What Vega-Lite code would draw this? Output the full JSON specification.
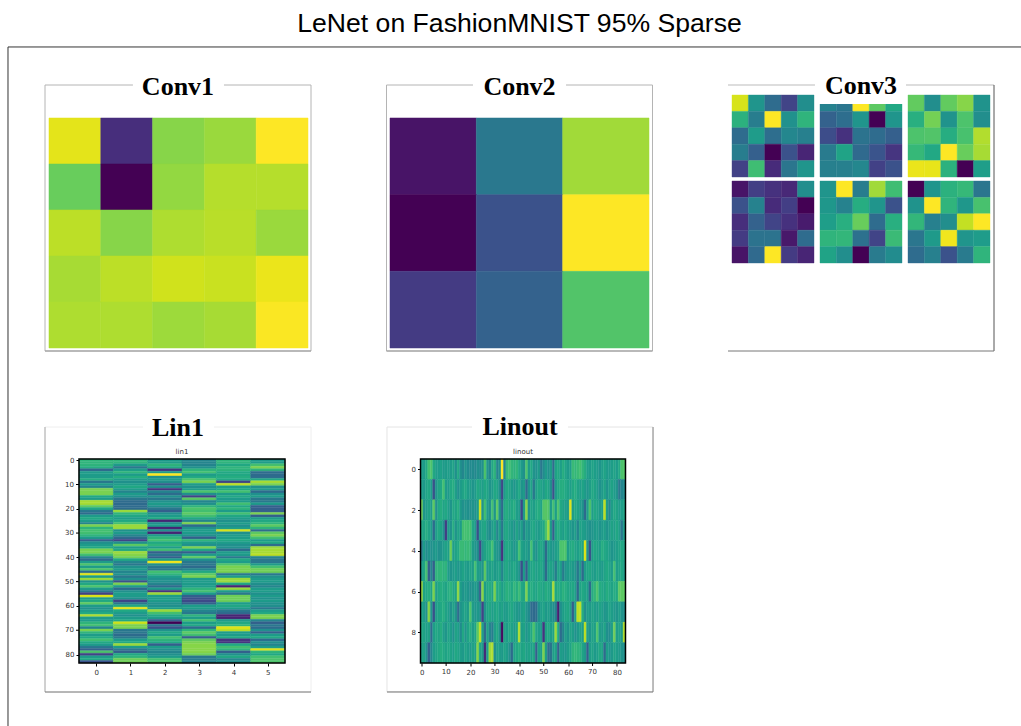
{"$schema":"https://vega.github.io/schema/vega-lite/v6.json","background":"white","padding":{"left":7,"top":10,"right":0,"bottom":0},"title":{"text":"LeNet on FashionMNIST 95% Sparse","font":"Liberation Sans","fontSize":26.6,"fontWeight":"normal","color":"#000","anchor":"middle","dx":5,"offset":9},"columns":3,"bounds":"flush","spacing":{"column":75.5,"row":76},
"config":{"axis":{"title":null,"domain":false,"grid":false,"tickColor":"#000","tickSize":3,"labelFont":"DejaVu Sans","labelFontSize":7,"labelColor":"#333","labelPadding":2,"format":"d"}},
"datasets":{"conv1":[{"r":0,"c":0,"v":96},{"r":0,"c":1,"v":13},{"r":0,"c":2,"v":82},{"r":0,"c":3,"v":85},{"r":0,"c":4,"v":100},{"r":1,"c":0,"v":77},{"r":1,"c":1,"v":0},{"r":1,"c":2,"v":84},{"r":1,"c":3,"v":89},{"r":1,"c":4,"v":89},{"r":2,"c":0,"v":90},{"r":2,"c":1,"v":82},{"r":2,"c":2,"v":88},{"r":2,"c":3,"v":89.5},{"r":2,"c":4,"v":85},{"r":3,"c":0,"v":87},{"r":3,"c":1,"v":90},{"r":3,"c":2,"v":93},{"r":3,"c":3,"v":92},{"r":3,"c":4,"v":97},{"r":4,"c":0,"v":88},{"r":4,"c":1,"v":88},{"r":4,"c":2,"v":85.5},{"r":4,"c":3,"v":87},{"r":4,"c":4,"v":99.5}],
"conv2":[{"r":0,"c":0,"v":5},{"r":0,"c":1,"v":40},{"r":0,"c":2,"v":86},{"r":1,"c":0,"v":0},{"r":1,"c":1,"v":25},{"r":1,"c":2,"v":100},{"r":2,"c":0,"v":17},{"r":2,"c":1,"v":31},{"r":2,"c":2,"v":73}],
"conv3":[{"m":0,"r":0,"c":0,"v":94},{"m":0,"r":0,"c":1,"v":52},{"m":0,"r":0,"c":2,"v":35},{"m":0,"r":0,"c":3,"v":20},{"m":0,"r":0,"c":4,"v":49},{"m":0,"r":1,"c":0,"v":64},{"m":0,"r":1,"c":1,"v":42},{"m":0,"r":1,"c":2,"v":100},{"m":0,"r":1,"c":3,"v":50},{"m":0,"r":1,"c":4,"v":65},{"m":0,"r":2,"c":0,"v":35},{"m":0,"r":2,"c":1,"v":55},{"m":0,"r":2,"c":2,"v":36},{"m":0,"r":2,"c":3,"v":46},{"m":0,"r":2,"c":4,"v":43},{"m":0,"r":3,"c":0,"v":42},{"m":0,"r":3,"c":1,"v":30},{"m":0,"r":3,"c":2,"v":0},{"m":0,"r":3,"c":3,"v":25},{"m":0,"r":3,"c":4,"v":10},{"m":0,"r":4,"c":0,"v":19},{"m":0,"r":4,"c":1,"v":69},{"m":0,"r":4,"c":2,"v":12},{"m":0,"r":4,"c":3,"v":39},{"m":0,"r":4,"c":4,"v":52},
{"m":1,"r":0,"c":0,"v":44},{"m":1,"r":0,"c":1,"v":39},{"m":1,"r":0,"c":2,"v":100},{"m":1,"r":0,"c":3,"v":75},{"m":1,"r":0,"c":4,"v":60},{"m":1,"r":1,"c":0,"v":31},{"m":1,"r":1,"c":1,"v":36},{"m":1,"r":1,"c":2,"v":52},{"m":1,"r":1,"c":3,"v":0},{"m":1,"r":1,"c":4,"v":52},{"m":1,"r":2,"c":0,"v":23},{"m":1,"r":2,"c":1,"v":14},{"m":1,"r":2,"c":2,"v":38},{"m":1,"r":2,"c":3,"v":35},{"m":1,"r":2,"c":4,"v":30},{"m":1,"r":3,"c":0,"v":41},{"m":1,"r":3,"c":1,"v":58},{"m":1,"r":3,"c":2,"v":34},{"m":1,"r":3,"c":3,"v":26},{"m":1,"r":3,"c":4,"v":15},{"m":1,"r":4,"c":0,"v":43},{"m":1,"r":4,"c":1,"v":43},{"m":1,"r":4,"c":2,"v":46},{"m":1,"r":4,"c":3,"v":19},{"m":1,"r":4,"c":4,"v":25},
{"m":2,"r":0,"c":0,"v":76},{"m":2,"r":0,"c":1,"v":49},{"m":2,"r":0,"c":2,"v":76},{"m":2,"r":0,"c":3,"v":82},{"m":2,"r":0,"c":4,"v":51},{"m":2,"r":1,"c":0,"v":63},{"m":2,"r":1,"c":1,"v":79},{"m":2,"r":1,"c":2,"v":51},{"m":2,"r":1,"c":3,"v":72},{"m":2,"r":1,"c":4,"v":49},{"m":2,"r":2,"c":0,"v":72},{"m":2,"r":2,"c":1,"v":73},{"m":2,"r":2,"c":2,"v":62},{"m":2,"r":2,"c":3,"v":71},{"m":2,"r":2,"c":4,"v":88.5},{"m":2,"r":3,"c":0,"v":67},{"m":2,"r":3,"c":1,"v":60},{"m":2,"r":3,"c":2,"v":100},{"m":2,"r":3,"c":3,"v":77},{"m":2,"r":3,"c":4,"v":87},{"m":2,"r":4,"c":0,"v":97},{"m":2,"r":4,"c":1,"v":96.5},{"m":2,"r":4,"c":2,"v":64},{"m":2,"r":4,"c":3,"v":0},{"m":2,"r":4,"c":4,"v":56},
{"m":3,"r":0,"c":0,"v":5},{"m":3,"r":0,"c":1,"v":18},{"m":3,"r":0,"c":2,"v":14},{"m":3,"r":0,"c":3,"v":11},{"m":3,"r":0,"c":4,"v":49},{"m":3,"r":1,"c":0,"v":25},{"m":3,"r":1,"c":1,"v":44},{"m":3,"r":1,"c":2,"v":12},{"m":3,"r":1,"c":3,"v":18},{"m":3,"r":1,"c":4,"v":0},{"m":3,"r":2,"c":0,"v":13},{"m":3,"r":2,"c":1,"v":31},{"m":3,"r":2,"c":2,"v":20},{"m":3,"r":2,"c":3,"v":14},{"m":3,"r":2,"c":4,"v":7},{"m":3,"r":3,"c":0,"v":17},{"m":3,"r":3,"c":1,"v":38},{"m":3,"r":3,"c":2,"v":38},{"m":3,"r":3,"c":3,"v":6},{"m":3,"r":3,"c":4,"v":35},{"m":3,"r":4,"c":0,"v":5},{"m":3,"r":4,"c":1,"v":34},{"m":3,"r":4,"c":2,"v":100},{"m":3,"r":4,"c":3,"v":17},{"m":3,"r":4,"c":4,"v":10},
{"m":4,"r":0,"c":0,"v":52},{"m":4,"r":0,"c":1,"v":100},{"m":4,"r":0,"c":2,"v":42},{"m":4,"r":0,"c":3,"v":86},{"m":4,"r":0,"c":4,"v":69},{"m":4,"r":1,"c":0,"v":53},{"m":4,"r":1,"c":1,"v":44},{"m":4,"r":1,"c":2,"v":62},{"m":4,"r":1,"c":3,"v":52},{"m":4,"r":1,"c":4,"v":25},{"m":4,"r":2,"c":0,"v":56},{"m":4,"r":2,"c":1,"v":63},{"m":4,"r":2,"c":2,"v":77},{"m":4,"r":2,"c":3,"v":35},{"m":4,"r":2,"c":4,"v":63},{"m":4,"r":3,"c":0,"v":65},{"m":4,"r":3,"c":1,"v":66},{"m":4,"r":3,"c":2,"v":37},{"m":4,"r":3,"c":3,"v":20},{"m":4,"r":3,"c":4,"v":68},{"m":4,"r":4,"c":0,"v":58},{"m":4,"r":4,"c":1,"v":49},{"m":4,"r":4,"c":2,"v":0},{"m":4,"r":4,"c":3,"v":41},{"m":4,"r":4,"c":4,"v":48},
{"m":5,"r":0,"c":0,"v":0},{"m":5,"r":0,"c":1,"v":52},{"m":5,"r":0,"c":2,"v":64},{"m":5,"r":0,"c":3,"v":67},{"m":5,"r":0,"c":4,"v":39},{"m":5,"r":1,"c":0,"v":51},{"m":5,"r":1,"c":1,"v":100},{"m":5,"r":1,"c":2,"v":65},{"m":5,"r":1,"c":3,"v":53},{"m":5,"r":1,"c":4,"v":71},{"m":5,"r":2,"c":0,"v":66},{"m":5,"r":2,"c":1,"v":43},{"m":5,"r":2,"c":2,"v":49},{"m":5,"r":2,"c":3,"v":91},{"m":5,"r":2,"c":4,"v":100},{"m":5,"r":3,"c":0,"v":39},{"m":5,"r":3,"c":1,"v":54},{"m":5,"r":3,"c":2,"v":98},{"m":5,"r":3,"c":3,"v":52},{"m":5,"r":3,"c":4,"v":55},{"m":5,"r":4,"c":0,"v":35},{"m":5,"r":4,"c":1,"v":43},{"m":5,"r":4,"c":2,"v":25},{"m":5,"r":4,"c":3,"v":41},{"m":5,"r":4,"c":4,"v":65}],
"oddticks":[{"t":10},{"t":30},{"t":50},{"t":70}],
"lin1":[{"r":0,"c":0,"v":65},{"r":1,"c":0,"v":65},{"r":2,"c":0,"v":65},{"r":3,"c":0,"v":62},{"r":4,"c":0,"v":32},{"r":5,"c":0,"v":55},{"r":6,"c":0,"v":55},{"r":7,"c":0,"v":55},{"r":8,"c":0,"v":62},{"r":9,"c":0,"v":40},{"r":10,"c":0,"v":55},{"r":11,"c":0,"v":45},{"r":12,"c":0,"v":80},{"r":13,"c":0,"v":80},{"r":14,"c":0,"v":80},{"r":15,"c":0,"v":60},{"r":16,"c":0,"v":55},{"r":17,"c":0,"v":87},{"r":18,"c":0,"v":87},{"r":19,"c":0,"v":75},{"r":20,"c":0,"v":60},{"r":21,"c":0,"v":40},{"r":22,"c":0,"v":35},{"r":23,"c":0,"v":55},{"r":24,"c":0,"v":60},{"r":25,"c":0,"v":55},{"r":26,"c":0,"v":45},{"r":27,"c":0,"v":80},{"r":28,"c":0,"v":65},{"r":29,"c":0,"v":70},{"r":30,"c":0,"v":70},{"r":31,"c":0,"v":65},{"r":32,"c":0,"v":55},{"r":33,"c":0,"v":30},{"r":34,"c":0,"v":50},{"r":35,"c":0,"v":55},{"r":36,"c":0,"v":60},{"r":37,"c":0,"v":80},{"r":38,"c":0,"v":80},{"r":39,"c":0,"v":70},{"r":40,"c":0,"v":45},{"r":41,"c":0,"v":35},{"r":42,"c":0,"v":55},{"r":43,"c":0,"v":72},{"r":44,"c":0,"v":55},{"r":45,"c":0,"v":72},{"r":46,"c":0,"v":35},{"r":47,"c":0,"v":95},{"r":48,"c":0,"v":55},{"r":49,"c":0,"v":85},{"r":50,"c":0,"v":50},{"r":51,"c":0,"v":60},{"r":52,"c":0,"v":72},{"r":53,"c":0,"v":55},{"r":54,"c":0,"v":40},{"r":55,"c":0,"v":20},{"r":56,"c":0,"v":95},{"r":57,"c":0,"v":55},{"r":58,"c":0,"v":60},{"r":59,"c":0,"v":75},{"r":60,"c":0,"v":55},{"r":61,"c":0,"v":50},{"r":62,"c":0,"v":55},{"r":63,"c":0,"v":60},{"r":64,"c":0,"v":88},{"r":65,"c":0,"v":55},{"r":66,"c":0,"v":55},{"r":67,"c":0,"v":65},{"r":68,"c":0,"v":70},{"r":69,"c":0,"v":45},{"r":70,"c":0,"v":80},{"r":71,"c":0,"v":65},{"r":72,"c":0,"v":55},{"r":73,"c":0,"v":60},{"r":74,"c":0,"v":70},{"r":75,"c":0,"v":60},{"r":76,"c":0,"v":55},{"r":77,"c":0,"v":40},{"r":78,"c":0,"v":30},{"r":79,"c":0,"v":72},{"r":80,"c":0,"v":20},{"r":81,"c":0,"v":55},{"r":82,"c":0,"v":60},{"r":83,"c":0,"v":25},
{"r":0,"c":1,"v":65},{"r":1,"c":1,"v":65},{"r":2,"c":1,"v":55},{"r":3,"c":1,"v":40},{"r":4,"c":1,"v":55},{"r":5,"c":1,"v":65},{"r":6,"c":1,"v":55},{"r":7,"c":1,"v":62},{"r":8,"c":1,"v":55},{"r":9,"c":1,"v":50},{"r":10,"c":1,"v":55},{"r":11,"c":1,"v":60},{"r":12,"c":1,"v":55},{"r":13,"c":1,"v":45},{"r":14,"c":1,"v":55},{"r":15,"c":1,"v":50},{"r":16,"c":1,"v":40},{"r":17,"c":1,"v":35},{"r":18,"c":1,"v":35},{"r":19,"c":1,"v":35},{"r":20,"c":1,"v":35},{"r":21,"c":1,"v":85},{"r":22,"c":1,"v":65},{"r":23,"c":1,"v":60},{"r":24,"c":1,"v":55},{"r":25,"c":1,"v":60},{"r":26,"c":1,"v":70},{"r":27,"c":1,"v":85},{"r":28,"c":1,"v":85},{"r":29,"c":1,"v":50},{"r":30,"c":1,"v":55},{"r":31,"c":1,"v":45},{"r":32,"c":1,"v":35},{"r":33,"c":1,"v":20},{"r":34,"c":1,"v":50},{"r":35,"c":1,"v":75},{"r":36,"c":1,"v":55},{"r":37,"c":1,"v":60},{"r":38,"c":1,"v":85},{"r":39,"c":1,"v":82},{"r":40,"c":1,"v":78},{"r":41,"c":1,"v":60},{"r":42,"c":1,"v":45},{"r":43,"c":1,"v":40},{"r":44,"c":1,"v":50},{"r":45,"c":1,"v":55},{"r":46,"c":1,"v":45},{"r":47,"c":1,"v":50},{"r":48,"c":1,"v":40},{"r":49,"c":1,"v":50},{"r":50,"c":1,"v":25},{"r":51,"c":1,"v":80},{"r":52,"c":1,"v":55},{"r":53,"c":1,"v":35},{"r":54,"c":1,"v":50},{"r":55,"c":1,"v":55},{"r":56,"c":1,"v":55},{"r":57,"c":1,"v":50},{"r":58,"c":1,"v":20},{"r":59,"c":1,"v":40},{"r":60,"c":1,"v":60},{"r":61,"c":1,"v":96},{"r":62,"c":1,"v":60},{"r":63,"c":1,"v":55},{"r":64,"c":1,"v":50},{"r":65,"c":1,"v":55},{"r":66,"c":1,"v":60},{"r":67,"c":1,"v":93},{"r":68,"c":1,"v":80},{"r":69,"c":1,"v":80},{"r":70,"c":1,"v":40},{"r":71,"c":1,"v":40},{"r":72,"c":1,"v":35},{"r":73,"c":1,"v":40},{"r":74,"c":1,"v":55},{"r":75,"c":1,"v":60},{"r":76,"c":1,"v":85},{"r":77,"c":1,"v":55},{"r":78,"c":1,"v":40},{"r":79,"c":1,"v":30},{"r":80,"c":1,"v":60},{"r":81,"c":1,"v":65},{"r":82,"c":1,"v":78},{"r":83,"c":1,"v":78},
{"r":0,"c":2,"v":55},{"r":1,"c":2,"v":55},{"r":2,"c":2,"v":65},{"r":3,"c":2,"v":60},{"r":4,"c":2,"v":15},{"r":5,"c":2,"v":55},{"r":6,"c":2,"v":100},{"r":7,"c":2,"v":50},{"r":8,"c":2,"v":55},{"r":9,"c":2,"v":50},{"r":10,"c":2,"v":30},{"r":11,"c":2,"v":50},{"r":12,"c":2,"v":15},{"r":13,"c":2,"v":45},{"r":14,"c":2,"v":35},{"r":15,"c":2,"v":50},{"r":16,"c":2,"v":40},{"r":17,"c":2,"v":50},{"r":18,"c":2,"v":55},{"r":19,"c":2,"v":50},{"r":20,"c":2,"v":40},{"r":21,"c":2,"v":30},{"r":22,"c":2,"v":50},{"r":23,"c":2,"v":55},{"r":24,"c":2,"v":60},{"r":25,"c":2,"v":10},{"r":26,"c":2,"v":50},{"r":27,"c":2,"v":55},{"r":28,"c":2,"v":10},{"r":29,"c":2,"v":50},{"r":30,"c":2,"v":10},{"r":31,"c":2,"v":55},{"r":32,"c":2,"v":65},{"r":33,"c":2,"v":70},{"r":34,"c":2,"v":60},{"r":35,"c":2,"v":65},{"r":36,"c":2,"v":55},{"r":37,"c":2,"v":70},{"r":38,"c":2,"v":30},{"r":39,"c":2,"v":40},{"r":40,"c":2,"v":30},{"r":41,"c":2,"v":55},{"r":42,"c":2,"v":98},{"r":43,"c":2,"v":50},{"r":44,"c":2,"v":40},{"r":45,"c":2,"v":40},{"r":46,"c":2,"v":70},{"r":47,"c":2,"v":65},{"r":48,"c":2,"v":55},{"r":49,"c":2,"v":50},{"r":50,"c":2,"v":50},{"r":51,"c":2,"v":45},{"r":52,"c":2,"v":35},{"r":53,"c":2,"v":55},{"r":54,"c":2,"v":15},{"r":55,"c":2,"v":85},{"r":56,"c":2,"v":55},{"r":57,"c":2,"v":55},{"r":58,"c":2,"v":55},{"r":59,"c":2,"v":50},{"r":60,"c":2,"v":50},{"r":61,"c":2,"v":55},{"r":62,"c":2,"v":85},{"r":63,"c":2,"v":70},{"r":64,"c":2,"v":60},{"r":65,"c":2,"v":55},{"r":66,"c":2,"v":30},{"r":67,"c":2,"v":0},{"r":68,"c":2,"v":40},{"r":69,"c":2,"v":25},{"r":70,"c":2,"v":50},{"r":71,"c":2,"v":60},{"r":72,"c":2,"v":55},{"r":73,"c":2,"v":70},{"r":74,"c":2,"v":65},{"r":75,"c":2,"v":60},{"r":76,"c":2,"v":30},{"r":77,"c":2,"v":55},{"r":78,"c":2,"v":50},{"r":79,"c":2,"v":45},{"r":80,"c":2,"v":50},{"r":81,"c":2,"v":55},{"r":82,"c":2,"v":70},{"r":83,"c":2,"v":72},
{"r":0,"c":3,"v":45},{"r":1,"c":3,"v":45},{"r":2,"c":3,"v":45},{"r":3,"c":3,"v":50},{"r":4,"c":3,"v":65},{"r":5,"c":3,"v":70},{"r":6,"c":3,"v":55},{"r":7,"c":3,"v":60},{"r":8,"c":3,"v":72},{"r":9,"c":3,"v":80},{"r":10,"c":3,"v":55},{"r":11,"c":3,"v":50},{"r":12,"c":3,"v":55},{"r":13,"c":3,"v":72},{"r":14,"c":3,"v":50},{"r":15,"c":3,"v":20},{"r":16,"c":3,"v":75},{"r":17,"c":3,"v":45},{"r":18,"c":3,"v":50},{"r":19,"c":3,"v":65},{"r":20,"c":3,"v":72},{"r":21,"c":3,"v":70},{"r":22,"c":3,"v":75},{"r":23,"c":3,"v":70},{"r":24,"c":3,"v":60},{"r":25,"c":3,"v":45},{"r":26,"c":3,"v":80},{"r":27,"c":3,"v":35},{"r":28,"c":3,"v":50},{"r":29,"c":3,"v":55},{"r":30,"c":3,"v":55},{"r":31,"c":3,"v":50},{"r":32,"c":3,"v":30},{"r":33,"c":3,"v":65},{"r":34,"c":3,"v":55},{"r":35,"c":3,"v":50},{"r":36,"c":3,"v":80},{"r":37,"c":3,"v":60},{"r":38,"c":3,"v":30},{"r":39,"c":3,"v":55},{"r":40,"c":3,"v":75},{"r":41,"c":3,"v":50},{"r":42,"c":3,"v":40},{"r":43,"c":3,"v":40},{"r":44,"c":3,"v":35},{"r":45,"c":3,"v":45},{"r":46,"c":3,"v":60},{"r":47,"c":3,"v":75},{"r":48,"c":3,"v":80},{"r":49,"c":3,"v":55},{"r":50,"c":3,"v":55},{"r":51,"c":3,"v":55},{"r":52,"c":3,"v":55},{"r":53,"c":3,"v":65},{"r":54,"c":3,"v":70},{"r":55,"c":3,"v":55},{"r":56,"c":3,"v":30},{"r":57,"c":3,"v":25},{"r":58,"c":3,"v":22},{"r":59,"c":3,"v":30},{"r":60,"c":3,"v":55},{"r":61,"c":3,"v":55},{"r":62,"c":3,"v":45},{"r":63,"c":3,"v":40},{"r":64,"c":3,"v":65},{"r":65,"c":3,"v":55},{"r":66,"c":3,"v":70},{"r":67,"c":3,"v":55},{"r":68,"c":3,"v":60},{"r":69,"c":3,"v":35},{"r":70,"c":3,"v":65},{"r":71,"c":3,"v":75},{"r":72,"c":3,"v":70},{"r":73,"c":3,"v":30},{"r":74,"c":3,"v":75},{"r":75,"c":3,"v":80},{"r":76,"c":3,"v":82},{"r":77,"c":3,"v":82},{"r":78,"c":3,"v":82},{"r":79,"c":3,"v":82},{"r":80,"c":3,"v":78},{"r":81,"c":3,"v":40},{"r":82,"c":3,"v":42},{"r":83,"c":3,"v":45},
{"r":0,"c":4,"v":65},{"r":1,"c":4,"v":65},{"r":2,"c":4,"v":60},{"r":3,"c":4,"v":65},{"r":4,"c":4,"v":65},{"r":5,"c":4,"v":60},{"r":6,"c":4,"v":60},{"r":7,"c":4,"v":62},{"r":8,"c":4,"v":60},{"r":9,"c":4,"v":20},{"r":10,"c":4,"v":90},{"r":11,"c":4,"v":55},{"r":12,"c":4,"v":60},{"r":13,"c":4,"v":70},{"r":14,"c":4,"v":55},{"r":15,"c":4,"v":60},{"r":16,"c":4,"v":55},{"r":17,"c":4,"v":55},{"r":18,"c":4,"v":70},{"r":19,"c":4,"v":60},{"r":20,"c":4,"v":65},{"r":21,"c":4,"v":55},{"r":22,"c":4,"v":70},{"r":23,"c":4,"v":60},{"r":24,"c":4,"v":55},{"r":25,"c":4,"v":50},{"r":26,"c":4,"v":55},{"r":27,"c":4,"v":50},{"r":28,"c":4,"v":55},{"r":29,"c":4,"v":94},{"r":30,"c":4,"v":50},{"r":31,"c":4,"v":55},{"r":32,"c":4,"v":55},{"r":33,"c":4,"v":60},{"r":34,"c":4,"v":55},{"r":35,"c":4,"v":50},{"r":36,"c":4,"v":50},{"r":37,"c":4,"v":35},{"r":38,"c":4,"v":55},{"r":39,"c":4,"v":55},{"r":40,"c":4,"v":40},{"r":41,"c":4,"v":60},{"r":42,"c":4,"v":55},{"r":43,"c":4,"v":72},{"r":44,"c":4,"v":80},{"r":45,"c":4,"v":80},{"r":46,"c":4,"v":80},{"r":47,"c":4,"v":40},{"r":48,"c":4,"v":55},{"r":49,"c":4,"v":85},{"r":50,"c":4,"v":85},{"r":51,"c":4,"v":60},{"r":52,"c":4,"v":10},{"r":53,"c":4,"v":85},{"r":54,"c":4,"v":55},{"r":55,"c":4,"v":40},{"r":56,"c":4,"v":78},{"r":57,"c":4,"v":78},{"r":58,"c":4,"v":78},{"r":59,"c":4,"v":55},{"r":60,"c":4,"v":60},{"r":61,"c":4,"v":55},{"r":62,"c":4,"v":40},{"r":63,"c":4,"v":35},{"r":64,"c":4,"v":10},{"r":65,"c":4,"v":10},{"r":66,"c":4,"v":55},{"r":67,"c":4,"v":60},{"r":68,"c":4,"v":65},{"r":69,"c":4,"v":95},{"r":70,"c":4,"v":90},{"r":71,"c":4,"v":55},{"r":72,"c":4,"v":55},{"r":73,"c":4,"v":60},{"r":74,"c":4,"v":15},{"r":75,"c":4,"v":15},{"r":76,"c":4,"v":60},{"r":77,"c":4,"v":70},{"r":78,"c":4,"v":65},{"r":79,"c":4,"v":30},{"r":80,"c":4,"v":50},{"r":81,"c":4,"v":60},{"r":82,"c":4,"v":45},{"r":83,"c":4,"v":50},
{"r":0,"c":5,"v":55},{"r":1,"c":5,"v":55},{"r":2,"c":5,"v":70},{"r":3,"c":5,"v":80},{"r":4,"c":5,"v":65},{"r":5,"c":5,"v":35},{"r":6,"c":5,"v":35},{"r":7,"c":5,"v":35},{"r":8,"c":5,"v":60},{"r":9,"c":5,"v":87},{"r":10,"c":5,"v":80},{"r":11,"c":5,"v":50},{"r":12,"c":5,"v":55},{"r":13,"c":5,"v":35},{"r":14,"c":5,"v":50},{"r":15,"c":5,"v":55},{"r":16,"c":5,"v":40},{"r":17,"c":5,"v":40},{"r":18,"c":5,"v":55},{"r":19,"c":5,"v":30},{"r":20,"c":5,"v":30},{"r":21,"c":5,"v":30},{"r":22,"c":5,"v":80},{"r":23,"c":5,"v":30},{"r":24,"c":5,"v":55},{"r":25,"c":5,"v":60},{"r":26,"c":5,"v":65},{"r":27,"c":5,"v":75},{"r":28,"c":5,"v":65},{"r":29,"c":5,"v":35},{"r":30,"c":5,"v":75},{"r":31,"c":5,"v":80},{"r":32,"c":5,"v":70},{"r":33,"c":5,"v":55},{"r":34,"c":5,"v":60},{"r":35,"c":5,"v":35},{"r":36,"c":5,"v":85},{"r":37,"c":5,"v":87},{"r":38,"c":5,"v":87},{"r":39,"c":5,"v":90},{"r":40,"c":5,"v":45},{"r":41,"c":5,"v":40},{"r":42,"c":5,"v":40},{"r":43,"c":5,"v":55},{"r":44,"c":5,"v":70},{"r":45,"c":5,"v":78},{"r":46,"c":5,"v":78},{"r":47,"c":5,"v":40},{"r":48,"c":5,"v":50},{"r":49,"c":5,"v":55},{"r":50,"c":5,"v":55},{"r":51,"c":5,"v":50},{"r":52,"c":5,"v":45},{"r":53,"c":5,"v":55},{"r":54,"c":5,"v":55},{"r":55,"c":5,"v":50},{"r":56,"c":5,"v":55},{"r":57,"c":5,"v":50},{"r":58,"c":5,"v":55},{"r":59,"c":5,"v":50},{"r":60,"c":5,"v":50},{"r":61,"c":5,"v":40},{"r":62,"c":5,"v":55},{"r":63,"c":5,"v":60},{"r":64,"c":5,"v":80},{"r":65,"c":5,"v":80},{"r":66,"c":5,"v":45},{"r":67,"c":5,"v":30},{"r":68,"c":5,"v":40},{"r":69,"c":5,"v":35},{"r":70,"c":5,"v":50},{"r":71,"c":5,"v":30},{"r":72,"c":5,"v":55},{"r":73,"c":5,"v":60},{"r":74,"c":5,"v":35},{"r":75,"c":5,"v":50},{"r":76,"c":5,"v":45},{"r":77,"c":5,"v":55},{"r":78,"c":5,"v":95},{"r":79,"c":5,"v":65},{"r":80,"c":5,"v":60},{"r":81,"c":5,"v":70},{"r":82,"c":5,"v":72},{"r":83,"c":5,"v":72}],
"linout":[{"r":0,"c":0,"v":55},{"r":0,"c":1,"v":55},{"r":0,"c":2,"v":60},{"r":0,"c":3,"v":70},{"r":0,"c":4,"v":72},{"r":0,"c":5,"v":60},{"r":0,"c":6,"v":56},{"r":0,"c":7,"v":55},{"r":0,"c":8,"v":57},{"r":0,"c":9,"v":54},{"r":0,"c":10,"v":55},{"r":0,"c":11,"v":56},{"r":0,"c":12,"v":54},{"r":0,"c":13,"v":58},{"r":0,"c":14,"v":50},{"r":0,"c":15,"v":60},{"r":0,"c":16,"v":50},{"r":0,"c":17,"v":46},{"r":0,"c":18,"v":52},{"r":0,"c":19,"v":48},{"r":0,"c":20,"v":47},{"r":0,"c":21,"v":48},{"r":0,"c":22,"v":46},{"r":0,"c":23,"v":50},{"r":0,"c":24,"v":48},{"r":0,"c":25,"v":50},{"r":0,"c":26,"v":72},{"r":0,"c":27,"v":52},{"r":0,"c":28,"v":45},{"r":0,"c":29,"v":60},{"r":0,"c":30,"v":65},{"r":0,"c":31,"v":45},{"r":0,"c":32,"v":50},{"r":0,"c":33,"v":100},{"r":0,"c":34,"v":45},{"r":0,"c":35,"v":68},{"r":0,"c":36,"v":70},{"r":0,"c":37,"v":66},{"r":0,"c":38,"v":64},{"r":0,"c":39,"v":66},{"r":0,"c":40,"v":60},{"r":0,"c":41,"v":55},{"r":0,"c":42,"v":50},{"r":0,"c":43,"v":72},{"r":0,"c":44,"v":55},{"r":0,"c":45,"v":60},{"r":0,"c":46,"v":52},{"r":0,"c":47,"v":50},{"r":0,"c":48,"v":55},{"r":0,"c":49,"v":40},{"r":0,"c":50,"v":48},{"r":0,"c":51,"v":55},{"r":0,"c":52,"v":50},{"r":0,"c":53,"v":56},{"r":0,"c":54,"v":35},{"r":0,"c":55,"v":58},{"r":0,"c":56,"v":60},{"r":0,"c":57,"v":56},{"r":0,"c":58,"v":62},{"r":0,"c":59,"v":58},{"r":0,"c":60,"v":55},{"r":0,"c":61,"v":56},{"r":0,"c":62,"v":68},{"r":0,"c":63,"v":66},{"r":0,"c":64,"v":68},{"r":0,"c":65,"v":70},{"r":0,"c":66,"v":66},{"r":0,"c":67,"v":62},{"r":0,"c":68,"v":56},{"r":0,"c":69,"v":55},{"r":0,"c":70,"v":58},{"r":0,"c":71,"v":56},{"r":0,"c":72,"v":55},{"r":0,"c":73,"v":52},{"r":0,"c":74,"v":56},{"r":0,"c":75,"v":58},{"r":0,"c":76,"v":55},{"r":0,"c":77,"v":54},{"r":0,"c":78,"v":56},{"r":0,"c":79,"v":58},{"r":0,"c":80,"v":55},{"r":0,"c":81,"v":60},{"r":0,"c":82,"v":72},{"r":0,"c":83,"v":73},
{"r":1,"c":0,"v":56},{"r":1,"c":1,"v":54},{"r":1,"c":2,"v":58},{"r":1,"c":3,"v":60},{"r":1,"c":4,"v":55},{"r":1,"c":5,"v":25},{"r":1,"c":6,"v":52},{"r":1,"c":7,"v":58},{"r":1,"c":8,"v":60},{"r":1,"c":9,"v":70},{"r":1,"c":10,"v":56},{"r":1,"c":11,"v":54},{"r":1,"c":12,"v":60},{"r":1,"c":13,"v":62},{"r":1,"c":14,"v":56},{"r":1,"c":15,"v":50},{"r":1,"c":16,"v":55},{"r":1,"c":17,"v":58},{"r":1,"c":18,"v":60},{"r":1,"c":19,"v":56},{"r":1,"c":20,"v":55},{"r":1,"c":21,"v":52},{"r":1,"c":22,"v":54},{"r":1,"c":23,"v":60},{"r":1,"c":24,"v":58},{"r":1,"c":25,"v":56},{"r":1,"c":26,"v":60},{"r":1,"c":27,"v":58},{"r":1,"c":28,"v":52},{"r":1,"c":29,"v":55},{"r":1,"c":30,"v":60},{"r":1,"c":31,"v":58},{"r":1,"c":32,"v":50},{"r":1,"c":33,"v":22},{"r":1,"c":34,"v":55},{"r":1,"c":35,"v":60},{"r":1,"c":36,"v":58},{"r":1,"c":37,"v":55},{"r":1,"c":38,"v":52},{"r":1,"c":39,"v":56},{"r":1,"c":40,"v":60},{"r":1,"c":41,"v":52},{"r":1,"c":42,"v":55},{"r":1,"c":43,"v":35},{"r":1,"c":44,"v":52},{"r":1,"c":45,"v":58},{"r":1,"c":46,"v":40},{"r":1,"c":47,"v":56},{"r":1,"c":48,"v":60},{"r":1,"c":49,"v":58},{"r":1,"c":50,"v":55},{"r":1,"c":51,"v":60},{"r":1,"c":52,"v":58},{"r":1,"c":53,"v":50},{"r":1,"c":54,"v":25},{"r":1,"c":55,"v":55},{"r":1,"c":56,"v":60},{"r":1,"c":57,"v":62},{"r":1,"c":58,"v":62},{"r":1,"c":59,"v":60},{"r":1,"c":60,"v":58},{"r":1,"c":61,"v":56},{"r":1,"c":62,"v":60},{"r":1,"c":63,"v":62},{"r":1,"c":64,"v":58},{"r":1,"c":65,"v":56},{"r":1,"c":66,"v":58},{"r":1,"c":67,"v":55},{"r":1,"c":68,"v":52},{"r":1,"c":69,"v":56},{"r":1,"c":70,"v":60},{"r":1,"c":71,"v":58},{"r":1,"c":72,"v":55},{"r":1,"c":73,"v":50},{"r":1,"c":74,"v":54},{"r":1,"c":75,"v":58},{"r":1,"c":76,"v":52},{"r":1,"c":77,"v":56},{"r":1,"c":78,"v":58},{"r":1,"c":79,"v":55},{"r":1,"c":80,"v":52},{"r":1,"c":81,"v":40},{"r":1,"c":82,"v":45},{"r":1,"c":83,"v":48},
{"r":2,"c":0,"v":78},{"r":2,"c":1,"v":52},{"r":2,"c":2,"v":56},{"r":2,"c":3,"v":58},{"r":2,"c":4,"v":55},{"r":2,"c":5,"v":75},{"r":2,"c":6,"v":50},{"r":2,"c":7,"v":60},{"r":2,"c":8,"v":62},{"r":2,"c":9,"v":58},{"r":2,"c":10,"v":60},{"r":2,"c":11,"v":56},{"r":2,"c":12,"v":52},{"r":2,"c":13,"v":60},{"r":2,"c":14,"v":58},{"r":2,"c":15,"v":62},{"r":2,"c":16,"v":54},{"r":2,"c":17,"v":50},{"r":2,"c":18,"v":52},{"r":2,"c":19,"v":50},{"r":2,"c":20,"v":50},{"r":2,"c":21,"v":52},{"r":2,"c":22,"v":50},{"r":2,"c":23,"v":55},{"r":2,"c":24,"v":92},{"r":2,"c":25,"v":52},{"r":2,"c":26,"v":70},{"r":2,"c":27,"v":55},{"r":2,"c":28,"v":50},{"r":2,"c":29,"v":70},{"r":2,"c":30,"v":52},{"r":2,"c":31,"v":75},{"r":2,"c":32,"v":52},{"r":2,"c":33,"v":35},{"r":2,"c":34,"v":60},{"r":2,"c":35,"v":62},{"r":2,"c":36,"v":58},{"r":2,"c":37,"v":60},{"r":2,"c":38,"v":62},{"r":2,"c":39,"v":56},{"r":2,"c":40,"v":55},{"r":2,"c":41,"v":22},{"r":2,"c":42,"v":55},{"r":2,"c":43,"v":82},{"r":2,"c":44,"v":52},{"r":2,"c":45,"v":58},{"r":2,"c":46,"v":56},{"r":2,"c":47,"v":60},{"r":2,"c":48,"v":62},{"r":2,"c":49,"v":58},{"r":2,"c":50,"v":73},{"r":2,"c":51,"v":74},{"r":2,"c":52,"v":73},{"r":2,"c":53,"v":55},{"r":2,"c":54,"v":70},{"r":2,"c":55,"v":56},{"r":2,"c":56,"v":72},{"r":2,"c":57,"v":60},{"r":2,"c":58,"v":58},{"r":2,"c":59,"v":56},{"r":2,"c":60,"v":55},{"r":2,"c":61,"v":95},{"r":2,"c":62,"v":56},{"r":2,"c":63,"v":60},{"r":2,"c":64,"v":58},{"r":2,"c":65,"v":55},{"r":2,"c":66,"v":52},{"r":2,"c":67,"v":35},{"r":2,"c":68,"v":56},{"r":2,"c":69,"v":72},{"r":2,"c":70,"v":56},{"r":2,"c":71,"v":60},{"r":2,"c":72,"v":58},{"r":2,"c":73,"v":55},{"r":2,"c":74,"v":56},{"r":2,"c":75,"v":90},{"r":2,"c":76,"v":55},{"r":2,"c":77,"v":45},{"r":2,"c":78,"v":56},{"r":2,"c":79,"v":60},{"r":2,"c":80,"v":58},{"r":2,"c":81,"v":55},{"r":2,"c":82,"v":56},{"r":2,"c":83,"v":58},
{"r":3,"c":0,"v":60},{"r":3,"c":1,"v":58},{"r":3,"c":2,"v":62},{"r":3,"c":3,"v":58},{"r":3,"c":4,"v":55},{"r":3,"c":5,"v":35},{"r":3,"c":6,"v":56},{"r":3,"c":7,"v":60},{"r":3,"c":8,"v":58},{"r":3,"c":9,"v":50},{"r":3,"c":10,"v":18},{"r":3,"c":11,"v":55},{"r":3,"c":12,"v":50},{"r":3,"c":13,"v":62},{"r":3,"c":14,"v":52},{"r":3,"c":15,"v":58},{"r":3,"c":16,"v":55},{"r":3,"c":17,"v":70},{"r":3,"c":18,"v":70},{"r":3,"c":19,"v":70},{"r":3,"c":20,"v":70},{"r":3,"c":21,"v":60},{"r":3,"c":22,"v":55},{"r":3,"c":23,"v":25},{"r":3,"c":24,"v":55},{"r":3,"c":25,"v":58},{"r":3,"c":26,"v":60},{"r":3,"c":27,"v":52},{"r":3,"c":28,"v":48},{"r":3,"c":29,"v":55},{"r":3,"c":30,"v":58},{"r":3,"c":31,"v":45},{"r":3,"c":32,"v":56},{"r":3,"c":33,"v":40},{"r":3,"c":34,"v":58},{"r":3,"c":35,"v":60},{"r":3,"c":36,"v":56},{"r":3,"c":37,"v":55},{"r":3,"c":38,"v":50},{"r":3,"c":39,"v":58},{"r":3,"c":40,"v":52},{"r":3,"c":41,"v":56},{"r":3,"c":42,"v":45},{"r":3,"c":43,"v":56},{"r":3,"c":44,"v":52},{"r":3,"c":45,"v":58},{"r":3,"c":46,"v":60},{"r":3,"c":47,"v":56},{"r":3,"c":48,"v":55},{"r":3,"c":49,"v":58},{"r":3,"c":50,"v":60},{"r":3,"c":51,"v":72},{"r":3,"c":52,"v":85},{"r":3,"c":53,"v":55},{"r":3,"c":54,"v":30},{"r":3,"c":55,"v":58},{"r":3,"c":56,"v":62},{"r":3,"c":57,"v":58},{"r":3,"c":58,"v":56},{"r":3,"c":59,"v":60},{"r":3,"c":60,"v":56},{"r":3,"c":61,"v":55},{"r":3,"c":62,"v":52},{"r":3,"c":63,"v":56},{"r":3,"c":64,"v":45},{"r":3,"c":65,"v":58},{"r":3,"c":66,"v":56},{"r":3,"c":67,"v":55},{"r":3,"c":68,"v":52},{"r":3,"c":69,"v":50},{"r":3,"c":70,"v":52},{"r":3,"c":71,"v":54},{"r":3,"c":72,"v":55},{"r":3,"c":73,"v":52},{"r":3,"c":74,"v":54},{"r":3,"c":75,"v":56},{"r":3,"c":76,"v":52},{"r":3,"c":77,"v":54},{"r":3,"c":78,"v":58},{"r":3,"c":79,"v":56},{"r":3,"c":80,"v":60},{"r":3,"c":81,"v":56},{"r":3,"c":82,"v":40},{"r":3,"c":83,"v":55},
{"r":4,"c":0,"v":40},{"r":4,"c":1,"v":55},{"r":4,"c":2,"v":48},{"r":4,"c":3,"v":52},{"r":4,"c":4,"v":50},{"r":4,"c":5,"v":52},{"r":4,"c":6,"v":54},{"r":4,"c":7,"v":50},{"r":4,"c":8,"v":52},{"r":4,"c":9,"v":55},{"r":4,"c":10,"v":58},{"r":4,"c":11,"v":56},{"r":4,"c":12,"v":78},{"r":4,"c":13,"v":56},{"r":4,"c":14,"v":58},{"r":4,"c":15,"v":60},{"r":4,"c":16,"v":68},{"r":4,"c":17,"v":68},{"r":4,"c":18,"v":66},{"r":4,"c":19,"v":68},{"r":4,"c":20,"v":66},{"r":4,"c":21,"v":56},{"r":4,"c":22,"v":52},{"r":4,"c":23,"v":50},{"r":4,"c":24,"v":22},{"r":4,"c":25,"v":52},{"r":4,"c":26,"v":58},{"r":4,"c":27,"v":60},{"r":4,"c":28,"v":62},{"r":4,"c":29,"v":70},{"r":4,"c":30,"v":56},{"r":4,"c":31,"v":52},{"r":4,"c":32,"v":50},{"r":4,"c":33,"v":15},{"r":4,"c":34,"v":56},{"r":4,"c":35,"v":60},{"r":4,"c":36,"v":58},{"r":4,"c":37,"v":56},{"r":4,"c":38,"v":52},{"r":4,"c":39,"v":56},{"r":4,"c":40,"v":70},{"r":4,"c":41,"v":58},{"r":4,"c":42,"v":55},{"r":4,"c":43,"v":56},{"r":4,"c":44,"v":52},{"r":4,"c":45,"v":70},{"r":4,"c":46,"v":56},{"r":4,"c":47,"v":50},{"r":4,"c":48,"v":58},{"r":4,"c":49,"v":60},{"r":4,"c":50,"v":56},{"r":4,"c":51,"v":35},{"r":4,"c":52,"v":56},{"r":4,"c":53,"v":54},{"r":4,"c":54,"v":52},{"r":4,"c":55,"v":56},{"r":4,"c":56,"v":58},{"r":4,"c":57,"v":72},{"r":4,"c":58,"v":72},{"r":4,"c":59,"v":72},{"r":4,"c":60,"v":56},{"r":4,"c":61,"v":60},{"r":4,"c":62,"v":62},{"r":4,"c":63,"v":58},{"r":4,"c":64,"v":56},{"r":4,"c":65,"v":60},{"r":4,"c":66,"v":58},{"r":4,"c":67,"v":95},{"r":4,"c":68,"v":50},{"r":4,"c":69,"v":25},{"r":4,"c":70,"v":56},{"r":4,"c":71,"v":60},{"r":4,"c":72,"v":58},{"r":4,"c":73,"v":56},{"r":4,"c":74,"v":62},{"r":4,"c":75,"v":60},{"r":4,"c":76,"v":58},{"r":4,"c":77,"v":56},{"r":4,"c":78,"v":52},{"r":4,"c":79,"v":54},{"r":4,"c":80,"v":56},{"r":4,"c":81,"v":58},{"r":4,"c":82,"v":60},{"r":4,"c":83,"v":58},
{"r":5,"c":0,"v":55},{"r":5,"c":1,"v":58},{"r":5,"c":2,"v":70},{"r":5,"c":3,"v":30},{"r":5,"c":4,"v":45},{"r":5,"c":5,"v":30},{"r":5,"c":6,"v":65},{"r":5,"c":7,"v":65},{"r":5,"c":8,"v":66},{"r":5,"c":9,"v":64},{"r":5,"c":10,"v":65},{"r":5,"c":11,"v":55},{"r":5,"c":12,"v":52},{"r":5,"c":13,"v":54},{"r":5,"c":14,"v":56},{"r":5,"c":15,"v":52},{"r":5,"c":16,"v":55},{"r":5,"c":17,"v":58},{"r":5,"c":18,"v":56},{"r":5,"c":19,"v":54},{"r":5,"c":20,"v":58},{"r":5,"c":21,"v":56},{"r":5,"c":22,"v":70},{"r":5,"c":23,"v":56},{"r":5,"c":24,"v":54},{"r":5,"c":25,"v":52},{"r":5,"c":26,"v":75},{"r":5,"c":27,"v":55},{"r":5,"c":28,"v":56},{"r":5,"c":29,"v":58},{"r":5,"c":30,"v":54},{"r":5,"c":31,"v":56},{"r":5,"c":32,"v":58},{"r":5,"c":33,"v":45},{"r":5,"c":34,"v":58},{"r":5,"c":35,"v":60},{"r":5,"c":36,"v":56},{"r":5,"c":37,"v":58},{"r":5,"c":38,"v":60},{"r":5,"c":39,"v":56},{"r":5,"c":40,"v":52},{"r":5,"c":41,"v":25},{"r":5,"c":42,"v":55},{"r":5,"c":43,"v":30},{"r":5,"c":44,"v":56},{"r":5,"c":45,"v":58},{"r":5,"c":46,"v":60},{"r":5,"c":47,"v":56},{"r":5,"c":48,"v":58},{"r":5,"c":49,"v":60},{"r":5,"c":50,"v":55},{"r":5,"c":51,"v":35},{"r":5,"c":52,"v":56},{"r":5,"c":53,"v":58},{"r":5,"c":54,"v":55},{"r":5,"c":55,"v":42},{"r":5,"c":56,"v":58},{"r":5,"c":57,"v":56},{"r":5,"c":58,"v":42},{"r":5,"c":59,"v":52},{"r":5,"c":60,"v":55},{"r":5,"c":61,"v":56},{"r":5,"c":62,"v":54},{"r":5,"c":63,"v":52},{"r":5,"c":64,"v":40},{"r":5,"c":65,"v":54},{"r":5,"c":66,"v":35},{"r":5,"c":67,"v":56},{"r":5,"c":68,"v":58},{"r":5,"c":69,"v":60},{"r":5,"c":70,"v":56},{"r":5,"c":71,"v":55},{"r":5,"c":72,"v":58},{"r":5,"c":73,"v":56},{"r":5,"c":74,"v":54},{"r":5,"c":75,"v":58},{"r":5,"c":76,"v":60},{"r":5,"c":77,"v":58},{"r":5,"c":78,"v":55},{"r":5,"c":79,"v":70},{"r":5,"c":80,"v":56},{"r":5,"c":81,"v":58},{"r":5,"c":82,"v":60},{"r":5,"c":83,"v":56},
{"r":6,"c":0,"v":85},{"r":6,"c":1,"v":58},{"r":6,"c":2,"v":60},{"r":6,"c":3,"v":62},{"r":6,"c":4,"v":58},{"r":6,"c":5,"v":80},{"r":6,"c":6,"v":56},{"r":6,"c":7,"v":60},{"r":6,"c":8,"v":62},{"r":6,"c":9,"v":60},{"r":6,"c":10,"v":58},{"r":6,"c":11,"v":62},{"r":6,"c":12,"v":65},{"r":6,"c":13,"v":60},{"r":6,"c":14,"v":58},{"r":6,"c":15,"v":83},{"r":6,"c":16,"v":56},{"r":6,"c":17,"v":52},{"r":6,"c":18,"v":54},{"r":6,"c":19,"v":52},{"r":6,"c":20,"v":50},{"r":6,"c":21,"v":52},{"r":6,"c":22,"v":54},{"r":6,"c":23,"v":52},{"r":6,"c":24,"v":30},{"r":6,"c":25,"v":82},{"r":6,"c":26,"v":56},{"r":6,"c":27,"v":60},{"r":6,"c":28,"v":62},{"r":6,"c":29,"v":58},{"r":6,"c":30,"v":80},{"r":6,"c":31,"v":60},{"r":6,"c":32,"v":62},{"r":6,"c":33,"v":56},{"r":6,"c":34,"v":60},{"r":6,"c":35,"v":64},{"r":6,"c":36,"v":62},{"r":6,"c":37,"v":60},{"r":6,"c":38,"v":66},{"r":6,"c":39,"v":62},{"r":6,"c":40,"v":68},{"r":6,"c":41,"v":60},{"r":6,"c":42,"v":58},{"r":6,"c":43,"v":80},{"r":6,"c":44,"v":60},{"r":6,"c":45,"v":62},{"r":6,"c":46,"v":60},{"r":6,"c":47,"v":58},{"r":6,"c":48,"v":62},{"r":6,"c":49,"v":60},{"r":6,"c":50,"v":58},{"r":6,"c":51,"v":62},{"r":6,"c":52,"v":60},{"r":6,"c":53,"v":58},{"r":6,"c":54,"v":87},{"r":6,"c":55,"v":60},{"r":6,"c":56,"v":62},{"r":6,"c":57,"v":60},{"r":6,"c":58,"v":64},{"r":6,"c":59,"v":62},{"r":6,"c":60,"v":60},{"r":6,"c":61,"v":58},{"r":6,"c":62,"v":60},{"r":6,"c":63,"v":56},{"r":6,"c":64,"v":35},{"r":6,"c":65,"v":58},{"r":6,"c":66,"v":60},{"r":6,"c":67,"v":58},{"r":6,"c":68,"v":56},{"r":6,"c":69,"v":35},{"r":6,"c":70,"v":62},{"r":6,"c":71,"v":66},{"r":6,"c":72,"v":72},{"r":6,"c":73,"v":62},{"r":6,"c":74,"v":60},{"r":6,"c":75,"v":58},{"r":6,"c":76,"v":62},{"r":6,"c":77,"v":60},{"r":6,"c":78,"v":58},{"r":6,"c":79,"v":62},{"r":6,"c":80,"v":60},{"r":6,"c":81,"v":75},{"r":6,"c":82,"v":75},{"r":6,"c":83,"v":75},
{"r":7,"c":0,"v":58},{"r":7,"c":1,"v":56},{"r":7,"c":2,"v":50},{"r":7,"c":3,"v":82},{"r":7,"c":4,"v":52},{"r":7,"c":5,"v":25},{"r":7,"c":6,"v":56},{"r":7,"c":7,"v":58},{"r":7,"c":8,"v":60},{"r":7,"c":9,"v":62},{"r":7,"c":10,"v":58},{"r":7,"c":11,"v":56},{"r":7,"c":12,"v":50},{"r":7,"c":13,"v":58},{"r":7,"c":14,"v":52},{"r":7,"c":15,"v":35},{"r":7,"c":16,"v":52},{"r":7,"c":17,"v":56},{"r":7,"c":18,"v":58},{"r":7,"c":19,"v":54},{"r":7,"c":20,"v":72},{"r":7,"c":21,"v":56},{"r":7,"c":22,"v":52},{"r":7,"c":23,"v":54},{"r":7,"c":24,"v":50},{"r":7,"c":25,"v":20},{"r":7,"c":26,"v":52},{"r":7,"c":27,"v":58},{"r":7,"c":28,"v":60},{"r":7,"c":29,"v":56},{"r":7,"c":30,"v":58},{"r":7,"c":31,"v":60},{"r":7,"c":32,"v":56},{"r":7,"c":33,"v":58},{"r":7,"c":34,"v":54},{"r":7,"c":35,"v":56},{"r":7,"c":36,"v":58},{"r":7,"c":37,"v":60},{"r":7,"c":38,"v":56},{"r":7,"c":39,"v":54},{"r":7,"c":40,"v":52},{"r":7,"c":41,"v":56},{"r":7,"c":42,"v":58},{"r":7,"c":43,"v":52},{"r":7,"c":44,"v":48},{"r":7,"c":45,"v":35},{"r":7,"c":46,"v":35},{"r":7,"c":47,"v":35},{"r":7,"c":48,"v":50},{"r":7,"c":49,"v":56},{"r":7,"c":50,"v":58},{"r":7,"c":51,"v":54},{"r":7,"c":52,"v":56},{"r":7,"c":53,"v":52},{"r":7,"c":54,"v":50},{"r":7,"c":55,"v":45},{"r":7,"c":56,"v":8},{"r":7,"c":57,"v":50},{"r":7,"c":58,"v":56},{"r":7,"c":59,"v":58},{"r":7,"c":60,"v":60},{"r":7,"c":61,"v":56},{"r":7,"c":62,"v":30},{"r":7,"c":63,"v":55},{"r":7,"c":64,"v":90},{"r":7,"c":65,"v":90},{"r":7,"c":66,"v":62},{"r":7,"c":67,"v":50},{"r":7,"c":68,"v":56},{"r":7,"c":69,"v":54},{"r":7,"c":70,"v":58},{"r":7,"c":71,"v":56},{"r":7,"c":72,"v":54},{"r":7,"c":73,"v":58},{"r":7,"c":74,"v":56},{"r":7,"c":75,"v":52},{"r":7,"c":76,"v":54},{"r":7,"c":77,"v":58},{"r":7,"c":78,"v":56},{"r":7,"c":79,"v":54},{"r":7,"c":80,"v":52},{"r":7,"c":81,"v":56},{"r":7,"c":82,"v":52},{"r":7,"c":83,"v":50},
{"r":8,"c":0,"v":60},{"r":8,"c":1,"v":58},{"r":8,"c":2,"v":56},{"r":8,"c":3,"v":58},{"r":8,"c":4,"v":35},{"r":8,"c":5,"v":56},{"r":8,"c":6,"v":60},{"r":8,"c":7,"v":58},{"r":8,"c":8,"v":62},{"r":8,"c":9,"v":56},{"r":8,"c":10,"v":52},{"r":8,"c":11,"v":58},{"r":8,"c":12,"v":56},{"r":8,"c":13,"v":50},{"r":8,"c":14,"v":58},{"r":8,"c":15,"v":56},{"r":8,"c":16,"v":48},{"r":8,"c":17,"v":60},{"r":8,"c":18,"v":52},{"r":8,"c":19,"v":58},{"r":8,"c":20,"v":62},{"r":8,"c":21,"v":56},{"r":8,"c":22,"v":58},{"r":8,"c":23,"v":75},{"r":8,"c":24,"v":90},{"r":8,"c":25,"v":56},{"r":8,"c":26,"v":35},{"r":8,"c":27,"v":58},{"r":8,"c":28,"v":45},{"r":8,"c":29,"v":42},{"r":8,"c":30,"v":56},{"r":8,"c":31,"v":60},{"r":8,"c":32,"v":52},{"r":8,"c":33,"v":3},{"r":8,"c":34,"v":58},{"r":8,"c":35,"v":56},{"r":8,"c":36,"v":60},{"r":8,"c":37,"v":58},{"r":8,"c":38,"v":54},{"r":8,"c":39,"v":58},{"r":8,"c":40,"v":88},{"r":8,"c":41,"v":56},{"r":8,"c":42,"v":58},{"r":8,"c":43,"v":52},{"r":8,"c":44,"v":56},{"r":8,"c":45,"v":60},{"r":8,"c":46,"v":72},{"r":8,"c":47,"v":58},{"r":8,"c":48,"v":56},{"r":8,"c":49,"v":54},{"r":8,"c":50,"v":15},{"r":8,"c":51,"v":58},{"r":8,"c":52,"v":60},{"r":8,"c":53,"v":56},{"r":8,"c":54,"v":58},{"r":8,"c":55,"v":85},{"r":8,"c":56,"v":60},{"r":8,"c":57,"v":35},{"r":8,"c":58,"v":45},{"r":8,"c":59,"v":56},{"r":8,"c":60,"v":52},{"r":8,"c":61,"v":58},{"r":8,"c":62,"v":56},{"r":8,"c":63,"v":50},{"r":8,"c":64,"v":54},{"r":8,"c":65,"v":58},{"r":8,"c":66,"v":56},{"r":8,"c":67,"v":90},{"r":8,"c":68,"v":56},{"r":8,"c":69,"v":52},{"r":8,"c":70,"v":58},{"r":8,"c":71,"v":56},{"r":8,"c":72,"v":72},{"r":8,"c":73,"v":56},{"r":8,"c":74,"v":54},{"r":8,"c":75,"v":58},{"r":8,"c":76,"v":50},{"r":8,"c":77,"v":48},{"r":8,"c":78,"v":56},{"r":8,"c":79,"v":78},{"r":8,"c":80,"v":56},{"r":8,"c":81,"v":58},{"r":8,"c":82,"v":54},{"r":8,"c":83,"v":88},
{"r":9,"c":0,"v":56},{"r":9,"c":1,"v":58},{"r":9,"c":2,"v":50},{"r":9,"c":3,"v":30},{"r":9,"c":4,"v":45},{"r":9,"c":5,"v":56},{"r":9,"c":6,"v":58},{"r":9,"c":7,"v":60},{"r":9,"c":8,"v":62},{"r":9,"c":9,"v":60},{"r":9,"c":10,"v":58},{"r":9,"c":11,"v":60},{"r":9,"c":12,"v":58},{"r":9,"c":13,"v":56},{"r":9,"c":14,"v":60},{"r":9,"c":15,"v":58},{"r":9,"c":16,"v":56},{"r":9,"c":17,"v":54},{"r":9,"c":18,"v":58},{"r":9,"c":19,"v":56},{"r":9,"c":20,"v":54},{"r":9,"c":21,"v":58},{"r":9,"c":22,"v":56},{"r":9,"c":23,"v":82},{"r":9,"c":24,"v":58},{"r":9,"c":25,"v":54},{"r":9,"c":26,"v":12},{"r":9,"c":27,"v":56},{"r":9,"c":28,"v":85},{"r":9,"c":29,"v":88},{"r":9,"c":30,"v":50},{"r":9,"c":31,"v":58},{"r":9,"c":32,"v":56},{"r":9,"c":33,"v":54},{"r":9,"c":34,"v":58},{"r":9,"c":35,"v":56},{"r":9,"c":36,"v":50},{"r":9,"c":37,"v":35},{"r":9,"c":38,"v":58},{"r":9,"c":39,"v":60},{"r":9,"c":40,"v":62},{"r":9,"c":41,"v":58},{"r":9,"c":42,"v":60},{"r":9,"c":43,"v":56},{"r":9,"c":44,"v":58},{"r":9,"c":45,"v":56},{"r":9,"c":46,"v":60},{"r":9,"c":47,"v":30},{"r":9,"c":48,"v":58},{"r":9,"c":49,"v":56},{"r":9,"c":50,"v":80},{"r":9,"c":51,"v":56},{"r":9,"c":52,"v":35},{"r":9,"c":53,"v":38},{"r":9,"c":54,"v":56},{"r":9,"c":55,"v":58},{"r":9,"c":56,"v":30},{"r":9,"c":57,"v":56},{"r":9,"c":58,"v":54},{"r":9,"c":59,"v":52},{"r":9,"c":60,"v":56},{"r":9,"c":61,"v":58},{"r":9,"c":62,"v":65},{"r":9,"c":63,"v":66},{"r":9,"c":64,"v":65},{"r":9,"c":65,"v":64},{"r":9,"c":66,"v":58},{"r":9,"c":67,"v":54},{"r":9,"c":68,"v":30},{"r":9,"c":69,"v":56},{"r":9,"c":70,"v":58},{"r":9,"c":71,"v":54},{"r":9,"c":72,"v":56},{"r":9,"c":73,"v":60},{"r":9,"c":74,"v":58},{"r":9,"c":75,"v":35},{"r":9,"c":76,"v":56},{"r":9,"c":77,"v":52},{"r":9,"c":78,"v":54},{"r":9,"c":79,"v":58},{"r":9,"c":80,"v":56},{"r":9,"c":81,"v":54},{"r":9,"c":82,"v":52},{"r":9,"c":83,"v":50}]},
"concat":[
{"width":266,"height":266,"view":{"stroke":null},"layer":[
{"data":{"values":[{"e":"top"}]},"mark":{"type":"rule","color":"#333"},"encoding":{"x":{"datum":-1.2915,"type":"quantitative","axis":null},"x2":{"datum":18.264},"y":{"datum":-2.0435,"type":"quantitative","axis":null}}},
{"data":{"values":[{"e":"left"}]},"mark":{"type":"rule","color":"#333"},"encoding":{"x":{"datum":-1.2915,"type":"quantitative","axis":null},"y":{"datum":-2.0435,"type":"quantitative","axis":null},"y2":{"datum":12.717}}},
{"data":{"values":[{"e":"card"}]},"mark":{"type":"rect","fill":"transparent","stroke":"#b4b4b4"},"encoding":{"x":{"datum":-0.577,"type":"quantitative","axis":null},"x2":{"datum":4.558},"y":{"datum":-1.217,"type":"quantitative","axis":null},"y2":{"datum":4.565}}},
{"data":{"values":[{"e":"bottom"}]},"mark":{"type":"rule","color":"#999"},"encoding":{"x":{"datum":-0.577,"type":"quantitative","axis":null},"x2":{"datum":4.558},"y":{"datum":4.565,"type":"quantitative","axis":null}}},
{"data":{"values":[{"e":"mask"}]},"mark":{"type":"rect","fill":"white"},"encoding":{"x":{"datum":1.12,"type":"quantitative","axis":null},"x2":{"datum":2.878},"y":{"datum":-1.543,"type":"quantitative","axis":null},"y2":{"datum":-1.0}}},
{"data":{"name":"conv1"},"mark":{"type":"rect","width":51.8,"height":46,"strokeWidth":0.5},"encoding":{"x":{"field":"c","type":"quantitative","axis":null,"scale":{"domain":[-0.577,4.558],"nice":false,"zero":false}},"y":{"field":"r","type":"quantitative","axis":null,"scale":{"domain":[4.565,-1.217],"nice":false,"zero":false}},"color":{"field":"v","type":"quantitative","scale":{"scheme":"viridis","domain":[0,100]},"legend":null},"stroke":{"field":"v","type":"quantitative","scale":{"scheme":"viridis","domain":[0,100]},"legend":null}}},
{"data":{"values":[{"t":"Conv1"}]},"mark":{"type":"text","font":"Liberation Serif","fontSize":26,"fontWeight":"bold","color":"#000"},"encoding":{"text":{"field":"t"},"x":{"datum":1.99,"type":"quantitative","axis":null},"y":{"datum":-1.174,"type":"quantitative","axis":null}}}
]},
{"width":266,"height":266,"view":{"stroke":null},"layer":[
{"data":{"values":[{"e":"card"}]},"mark":{"type":"rect","fill":"transparent","stroke":"#b4b4b4"},"encoding":{"x":{"datum":-0.5405,"type":"quantitative","axis":null},"x2":{"datum":2.5405},"y":{"datum":-0.93,"type":"quantitative","axis":null},"y2":{"datum":2.539}}},
{"data":{"values":[{"e":"bottom"}]},"mark":{"type":"rule","color":"#999"},"encoding":{"x":{"datum":-0.5405,"type":"quantitative","axis":null},"x2":{"datum":2.5405},"y":{"datum":2.539,"type":"quantitative","axis":null}}},
{"data":{"values":[{"e":"mask"}]},"mark":{"type":"rect","fill":"white"},"encoding":{"x":{"datum":0.461,"type":"quantitative","axis":null},"x2":{"datum":1.539},"y":{"datum":-1.126,"type":"quantitative","axis":null},"y2":{"datum":-0.8}}},
{"data":{"name":"conv2"},"mark":{"type":"rect","width":86.33,"height":76.67,"strokeWidth":0.5},"encoding":{"x":{"field":"c","type":"quantitative","axis":null,"scale":{"domain":[-0.5405,2.5405],"nice":false,"zero":false}},"y":{"field":"r","type":"quantitative","axis":null,"scale":{"domain":[2.539,-0.93],"nice":false,"zero":false}},"color":{"field":"v","type":"quantitative","scale":{"scheme":"viridis","domain":[0,100]},"legend":null},"stroke":{"field":"v","type":"quantitative","scale":{"scheme":"viridis","domain":[0,100]},"legend":null}}},
{"data":{"values":[{"t":"Conv2"}]},"mark":{"type":"text","font":"Liberation Serif","fontSize":26,"fontWeight":"bold","color":"#000"},"encoding":{"text":{"field":"t"},"x":{"datum":1.0,"type":"quantitative","axis":null},"y":{"datum":-0.904,"type":"quantitative","axis":null}}}
]},
{"width":266,"height":266,"view":{"stroke":null},"layer":[
{"data":{"name":"conv3"},"transform":[{"calculate":"datum.c+5.366*(datum.m%3)","as":"gx"},{"calculate":"datum.r+5.244*floor(datum.m/3)","as":"gy"}],"mark":{"type":"rect","width":16.4,"height":16.4,"strokeWidth":0.4},"encoding":{"x":{"field":"gx","type":"quantitative","axis":null,"scale":{"domain":[-0.744,15.476],"nice":false,"zero":false}},"y":{"field":"gy","type":"quantitative","axis":null,"scale":{"domain":[15.11,-1.11],"nice":false,"zero":false}},"color":{"field":"v","type":"quantitative","scale":{"scheme":"viridis","domain":[0,100]},"legend":null},"stroke":{"field":"v","type":"quantitative","scale":{"scheme":"viridis","domain":[0,100]},"legend":null}}},
{"data":{"values":[{"e":"mask"}]},"mark":{"type":"rect","fill":"white"},"encoding":{"x":{"datum":4.56,"type":"quantitative","axis":null},"x2":{"datum":10.11},"y":{"datum":-2.02,"type":"quantitative","axis":null},"y2":{"datum":0.049}}},
{"data":{"values":[{"e":"top"}]},"mark":{"type":"rule","color":"#bbb"},"encoding":{"x":{"datum":-0.744,"type":"quantitative","axis":null},"x2":{"datum":4.56},"y":{"datum":-1.11,"type":"quantitative","axis":null}}},
{"data":{"values":[{"e":"top2"}]},"mark":{"type":"rule","color":"#bbb"},"encoding":{"x":{"datum":10.11,"type":"quantitative","axis":null},"x2":{"datum":15.476},"y":{"datum":-1.11,"type":"quantitative","axis":null}}},
{"data":{"values":[{"e":"right"}]},"mark":{"type":"rule","color":"#555"},"encoding":{"x":{"datum":15.476,"type":"quantitative","axis":null},"y":{"datum":-1.11,"type":"quantitative","axis":null},"y2":{"datum":15.11}}},
{"data":{"values":[{"e":"bottom"}]},"mark":{"type":"rule","color":"#777"},"encoding":{"x":{"datum":-0.744,"type":"quantitative","axis":null},"x2":{"datum":15.476},"y":{"datum":15.11,"type":"quantitative","axis":null}}},
{"data":{"values":[{"t":"Conv3"}]},"mark":{"type":"text","font":"Liberation Serif","fontSize":26,"fontWeight":"bold","color":"#000"},"encoding":{"text":{"field":"t"},"x":{"datum":7.366,"type":"quantitative","axis":null},"y":{"datum":-1.05,"type":"quantitative","axis":null}}}
]},
{"width":266,"height":266,"view":{"stroke":null},"layer":[
{"data":{"values":[{"e":"card"}]},"mark":{"type":"rect","fill":"transparent","stroke":"#eeeeee"},"encoding":{"x":{"datum":-1.49,"type":"quantitative","axis":{"values":[0,1,2,3,4,5],"offset":-30,"labelOverlap":false},"scale":{"domain":[-1.49,6.257],"nice":false,"zero":false}},"x2":{"datum":6.257},"y":{"datum":-13.676,"type":"quantitative","axis":{"values":[0,10,20,30,40,50,60,70,80],"offset":-34,"labelOverlap":false},"scale":{"domain":[95.85,-13.676],"nice":false,"zero":false}},"y2":{"datum":95.44}}},
{"data":{"values":[{"e":"left"}]},"mark":{"type":"rule","color":"#aaa"},"encoding":{"x":{"datum":-1.49,"type":"quantitative"},"y":{"datum":-13.676,"type":"quantitative"},"y2":{"datum":95.44}}},
{"data":{"values":[{"e":"bottom"}]},"mark":{"type":"rule","color":"#777"},"encoding":{"x":{"datum":-1.49,"type":"quantitative"},"x2":{"datum":6.257},"y":{"datum":95.44,"type":"quantitative"}}},
{"data":{"values":[{"e":"mask"}]},"mark":{"type":"rect","fill":"white"},"encoding":{"x":{"datum":1.364,"type":"quantitative"},"x2":{"datum":3.432},"y":{"datum":-19.85,"type":"quantitative"},"y2":{"datum":-9.56}}},
{"data":{"name":"lin1"},"mark":{"type":"rect","width":34.33,"height":2.43,"strokeWidth":0.4},"encoding":{"x":{"field":"c","type":"quantitative","axis":{"values":[0,1,2,3,4,5],"offset":-30,"labelOverlap":false}},"y":{"field":"r","type":"quantitative","axis":{"values":[0,10,20,30,40,50,60,70,80],"offset":-34,"labelOverlap":false}},"color":{"field":"v","type":"quantitative","scale":{"scheme":"viridis","domain":[0,100]},"legend":null},"stroke":{"field":"v","type":"quantitative","scale":{"scheme":"viridis","domain":[0,100]},"legend":null}}},
{"data":{"values":[{"e":"plot"}]},"mark":{"type":"rect","fill":"transparent","stroke":"#000","strokeWidth":1.5},"encoding":{"x":{"datum":-0.5,"type":"quantitative"},"x2":{"datum":5.5},"y":{"datum":-0.5,"type":"quantitative"},"y2":{"datum":83.5}}},
{"data":{"name":"oddticks"},"mark":{"type":"rule","color":"#000"},"encoding":{"x":{"datum":-0.587,"type":"quantitative"},"x2":{"datum":-0.5},"y":{"field":"t","type":"quantitative"}}},
{"data":{"name":"oddticks"},"mark":{"type":"text","font":"DejaVu Sans","fontSize":7,"color":"#333","align":"right","baseline":"middle"},"encoding":{"text":{"field":"t","type":"quantitative","format":"d"},"x":{"datum":-0.646,"type":"quantitative"},"y":{"field":"t","type":"quantitative"}}},
{"data":{"values":[{"t":"lin1"}]},"mark":{"type":"text","font":"DejaVu Sans","fontSize":7,"color":"#333"},"encoding":{"text":{"field":"t"},"x":{"datum":2.5,"type":"quantitative"},"y":{"datum":-3.38,"type":"quantitative"}}},
{"data":{"values":[{"t":"Lin1"}]},"mark":{"type":"text","font":"Liberation Serif","fontSize":26,"fontWeight":"bold","color":"#000"},"encoding":{"text":{"field":"t"},"x":{"datum":2.384,"type":"quantitative"},"y":{"datum":-13.3,"type":"quantitative"}}}
]},
{"width":266,"height":266,"view":{"stroke":null},"layer":[
{"data":{"values":[{"e":"card"}]},"mark":{"type":"rect","fill":"transparent","stroke":"#e4e4e4"},"encoding":{"x":{"datum":-14.23,"type":"quantitative","axis":{"values":[0,10,20,30,40,50,60,70,80],"offset":-30,"labelOverlap":false},"scale":{"domain":[-14.434,94.566],"nice":false,"zero":false}},"x2":{"datum":94.78},"y":{"datum":-2.069,"type":"quantitative","axis":{"values":[0,2,4,6,8],"offset":-34,"labelOverlap":false},"scale":{"domain":[10.97,-2.069],"nice":false,"zero":false}},"y2":{"datum":10.92}}},
{"data":{"values":[{"e":"right"}]},"mark":{"type":"rule","color":"#888"},"encoding":{"x":{"datum":94.78,"type":"quantitative"},"y":{"datum":-2.069,"type":"quantitative"},"y2":{"datum":10.92}}},
{"data":{"values":[{"e":"bottom"}]},"mark":{"type":"rule","color":"#777"},"encoding":{"x":{"datum":-14.23,"type":"quantitative"},"x2":{"datum":94.78},"y":{"datum":10.92,"type":"quantitative"}}},
{"data":{"values":[{"e":"mask"}]},"mark":{"type":"rect","fill":"white"},"encoding":{"x":{"datum":20.6,"type":"quantitative"},"x2":{"datum":59.95},"y":{"datum":-2.8,"type":"quantitative"},"y2":{"datum":-1.579}}},
{"data":{"name":"linout"},"mark":{"type":"rect","width":2.44,"height":20.4,"strokeWidth":0.4},"encoding":{"x":{"field":"c","type":"quantitative","axis":{"values":[0,10,20,30,40,50,60,70,80],"offset":-30,"labelOverlap":false}},"y":{"field":"r","type":"quantitative","axis":{"values":[0,2,4,6,8],"offset":-34,"labelOverlap":false}},"color":{"field":"v","type":"quantitative","scale":{"scheme":"viridis","domain":[0,100]},"legend":null},"stroke":{"field":"v","type":"quantitative","scale":{"scheme":"viridis","domain":[0,100]},"legend":null}}},
{"data":{"values":[{"e":"plot"}]},"mark":{"type":"rect","fill":"transparent","stroke":"#000","strokeWidth":1.5},"encoding":{"x":{"datum":-0.5,"type":"quantitative"},"x2":{"datum":83.5},"y":{"datum":-0.5,"type":"quantitative"},"y2":{"datum":9.5}}},
{"data":{"name":"oddticks"},"mark":{"type":"rule","color":"#000"},"encoding":{"x":{"field":"t","type":"quantitative"},"y":{"datum":9.5,"type":"quantitative"},"y2":{"datum":9.647}}},
{"data":{"name":"oddticks"},"mark":{"type":"text","font":"DejaVu Sans","fontSize":7,"color":"#333","align":"center","baseline":"top"},"encoding":{"text":{"field":"t","type":"quantitative","format":"d"},"x":{"field":"t","type":"quantitative"},"y":{"datum":9.745,"type":"quantitative"}}},
{"data":{"values":[{"t":"linout"}]},"mark":{"type":"text","font":"DejaVu Sans","fontSize":7,"color":"#333"},"encoding":{"text":{"field":"t"},"x":{"datum":41.5,"type":"quantitative"},"y":{"datum":-0.84,"type":"quantitative"}}},
{"data":{"values":[{"t":"Linout"}]},"mark":{"type":"text","font":"Liberation Serif","fontSize":26,"fontWeight":"bold","color":"#000"},"encoding":{"text":{"field":"t"},"x":{"datum":40.28,"type":"quantitative"},"y":{"datum":-2.05,"type":"quantitative"}}}
]}
]}
